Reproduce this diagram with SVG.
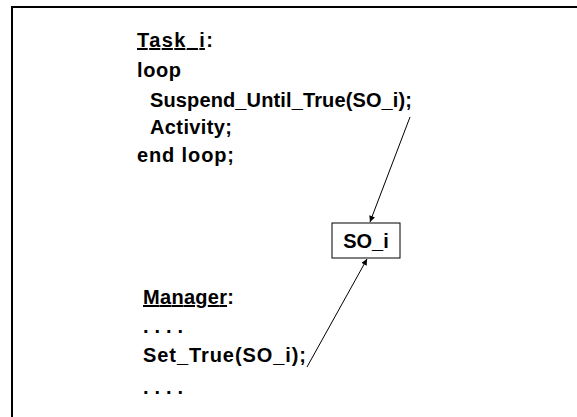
<svg xmlns="http://www.w3.org/2000/svg" width="577" height="417" viewBox="0 0 577 417">
<style>
.t{font-family:"Liberation Sans",Arial,sans-serif;font-size:20px;font-weight:bold;fill:#000}
.u{text-decoration:underline}
.c{stroke:#000;stroke-width:1;fill:none}
</style>
<defs>
<marker id="ah" viewBox="0 0 10 10" refX="10" refY="5" markerWidth="10" markerHeight="6" markerUnits="userSpaceOnUse" orient="auto">
<path d="M0,0 L10,5 L0,10 z" fill="#000"/>
</marker>
</defs>
<rect x="0" y="0" width="577" height="417" fill="#fff"/>
<rect x="12" y="7" width="600" height="450" fill="none" stroke="#000" stroke-width="2"/>
<g id="task">
<text class="t" x="137" y="47" textLength="76" lengthAdjust="spacing"><tspan class="u">Task_i</tspan>:</text>
<text class="t" x="137" y="77" textLength="44" lengthAdjust="spacing">loop</text>
<text class="t" x="150" y="107" textLength="262" lengthAdjust="spacing">Suspend_Until_True(SO_i);</text>
<text class="t" x="150" y="134" textLength="82" lengthAdjust="spacing">Activity;</text>
<text class="t" x="137" y="162" textLength="97" lengthAdjust="spacing">end loop;</text>
</g>
<g id="so_i">
<rect x="332" y="223" width="68" height="35" fill="#fff" stroke="#000" stroke-width="1"/>
<text class="t" x="366" y="248" text-anchor="middle">SO_i</text>
</g>
<g id="manager">
<text class="t" x="143" y="304" textLength="91" lengthAdjust="spacing"><tspan class="u">Manager</tspan>:</text>
<text class="t" x="143" y="333" textLength="40" lengthAdjust="spacing">. . . .</text>
<text class="t" x="143" y="362" textLength="163" lengthAdjust="spacing">Set_True(SO_i);</text>
<text class="t" x="143" y="394" textLength="40" lengthAdjust="spacing">. . . .</text>
</g>
<g id="connectors">
<line class="c" x1="410" y1="117" x2="370" y2="222" marker-end="url(#ah)"/>
<line class="c" x1="307" y1="367" x2="367" y2="259" marker-end="url(#ah)"/>
</g>
</svg>
